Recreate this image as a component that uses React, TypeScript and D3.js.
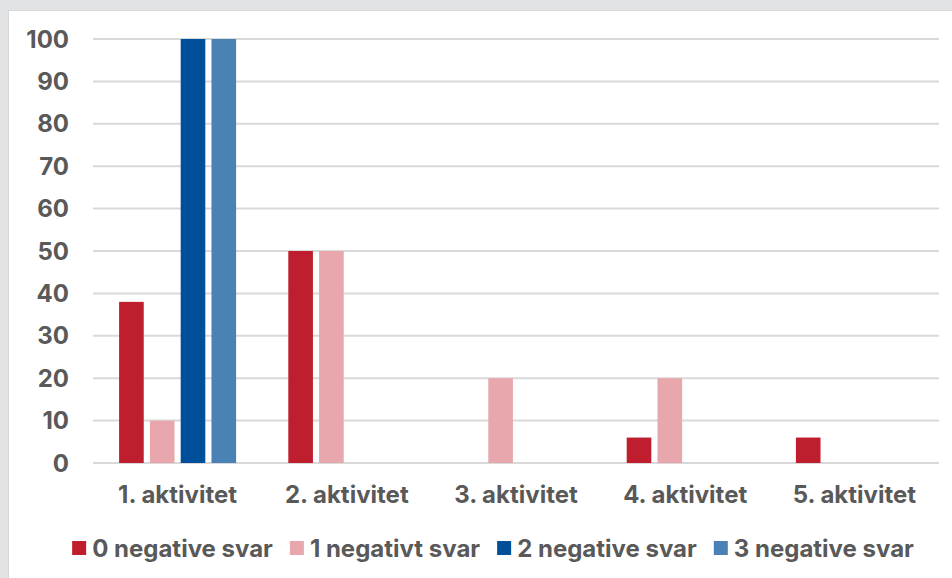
import { useEffect, useRef } from "react";
import * as d3 from "d3";

const categories = ["1. aktivitet", "2. aktivitet", "3. aktivitet", "4. aktivitet", "5. aktivitet"];
const seriesNames = ["0 negative svar", "1 negativt svar", "2 negative svar", "3 negative svar"];
const seriesColors = ["#be1e2d", "#e8a7ad", "#004f9a", "#4a82b5"];
const zeroNeg = [38, 50, 0, 6, 6];
const oneNeg = [10, 50, 20, 20, 0];
const twoNeg = [100, 0, 0, 0, 0];
const threeNeg = [100, 0, 0, 0, 0];
const yTicks = [0, 10, 20, 30, 40, 50, 60, 70, 80, 90, 100];

const W = 952;
const H = 578;
const FONT = "Inter, 'Noto Sans', sans-serif";
const TEXT = "#595959";

export default function App() {
  const ref = useRef<SVGSVGElement>(null);

  useEffect(() => {
    const svg = d3.select(ref.current);
    svg.selectAll("*").remove();

    // background frame
    svg.append("rect").attr("width", W).attr("height", H).attr("fill", "#e2e3e5");
    svg.append("rect").attr("x", 8).attr("y", 10).attr("width", W - 8).attr("height", H - 10).attr("fill", "#d6d7d9");
    svg.append("rect").attr("x", 9).attr("y", 11).attr("width", W - 9).attr("height", H - 11).attr("fill", "#ffffff");

    const values = [zeroNeg, oneNeg, twoNeg, threeNeg];
    const x = d3.scaleBand().domain(categories).range([93, 939]);
    const inner = d3.scaleBand().domain(seriesNames).range([-58.5, 58.5]).paddingInner(0.2);
    const y = d3.scaleLinear().domain([0, 100]).range([463, 39]);

    const g = svg.append("g");
    g.selectAll("line.grid")
      .data(yTicks)
      .join("line")
      .attr("x1", 93)
      .attr("x2", 939)
      .attr("y1", (d) => y(d))
      .attr("y2", (d) => y(d))
      .attr("stroke", "#d9d9d9")
      .attr("stroke-width", 2);

    g.selectAll("text.ytick")
      .data(yTicks)
      .join("text")
      .attr("x", 69)
      .attr("y", (d) => y(d))
      .attr("text-anchor", "end")
      .attr("dominant-baseline", "central")
      .attr("font-family", FONT)
      .attr("font-weight", 700)
      .attr("font-size", 24)
      .attr("fill", TEXT)
      .text((d) => d);

    seriesNames.forEach((s, si) => {
      g.selectAll(`rect.s${si}`)
        .data(categories.map((c, ci) => ({ c, v: values[si][ci] })).filter((d) => d.v > 0))
        .join("rect")
        .attr("x", (d) => x(d.c)! + x.bandwidth() / 2 + inner(s)!)
        .attr("width", inner.bandwidth())
        .attr("y", (d) => y(d.v))
        .attr("height", (d) => y(0) - y(d.v))
        .attr("fill", seriesColors[si]);
    });

    g.selectAll("text.cat")
      .data(categories)
      .join("text")
      .attr("x", (d) => x(d)! + x.bandwidth() / 2)
      .attr("y", 494)
      .attr("text-anchor", "middle")
      .attr("dominant-baseline", "central")
      .attr("font-family", FONT)
      .attr("font-weight", 700)
      .attr("font-size", 24)
      .attr("fill", TEXT)
      .text((d) => d);

    // legend
    const lg = svg.append("g");
    const items = lg
      .selectAll("g")
      .data(seriesNames)
      .join("g");
    items
      .append("rect")
      .attr("width", 14)
      .attr("height", 14)
      .attr("y", 541)
      .attr("fill", (_, i) => seriesColors[i]);
    const texts = items
      .append("text")
      .attr("y", 548)
      .attr("dominant-baseline", "central")
      .attr("font-family", FONT)
      .attr("font-weight", 700)
      .attr("font-size", 24)
      .attr("fill", TEXT)
      .text((d) => d);
    const widths: number[] = [];
    texts.each(function () {
      widths.push((this as SVGTextElement).getComputedTextLength());
    });
    const itemW = widths.map((w) => 14 + 6 + w);
    const gap = 17;
    const total = d3.sum(itemW) + gap * (itemW.length - 1);
    let cx = 493 - total / 2;
    items.each(function (_, i) {
      d3.select(this).attr("transform", `translate(${cx},0)`);
      d3.select(this).select("text").attr("x", 20);
      cx += itemW[i] + gap;
    });
  }, []);

  return (
    <div style={{ position: "fixed", left: 0, top: 0 }}>
      <svg ref={ref} width={W} height={H} style={{ display: "block" }} />
    </div>
  );
}
